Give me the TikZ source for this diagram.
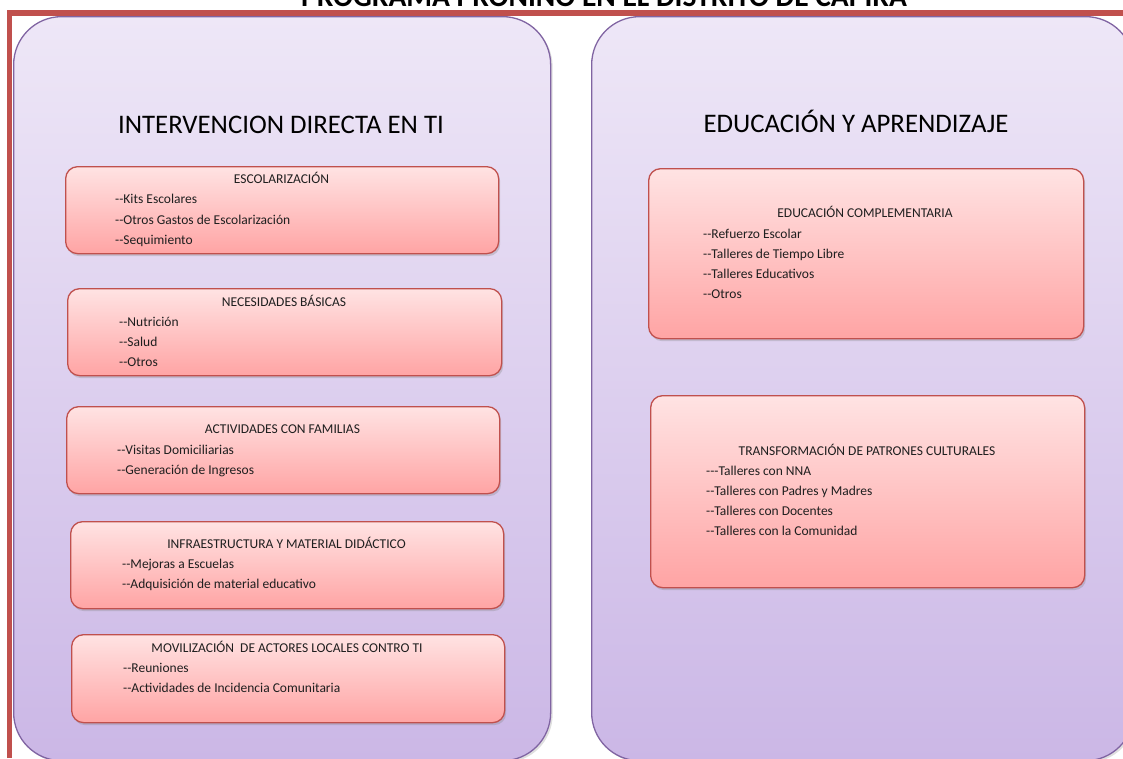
\documentclass[tikz,border=0pt]{standalone}
\usepackage{fontspec}
\setmainfont{Carlito}
\usetikzlibrary{shadows}
\definecolor{pborder}{HTML}{8064A2}
\definecolor{ptop}{HTML}{EEE7F7}
\definecolor{pbot}{HTML}{CBB7E6}
\definecolor{rborder}{HTML}{C0504D}
\definecolor{rtop}{HTML}{FFE3E3}
\definecolor{rbot}{HTML}{FFA4A4}
\definecolor{frame}{HTML}{C0504D}
\newcommand{\dsh}{-{}-}
\tikzset{
  panel/.style={draw=pborder, line width=1.3pt, rounded corners=48pt,
    top color=ptop, bottom color=pbot, anchor=north west, inner sep=0pt,
    drop shadow={opacity=0.25, shadow xshift=2pt, shadow yshift=-2pt}},
  rbox/.style={draw=rborder, line width=1.3pt, rounded corners=12pt,
    top color=rtop, bottom color=rbot, anchor=north west, inner sep=0pt,
    drop shadow={opacity=0.3, shadow xshift=1.5pt, shadow yshift=-2.5pt}},
  heading/.style={font=\fontsize{26.8}{31}\selectfont, anchor=base, inner sep=0pt},
  btitle/.style={font=\fontsize{13.5}{16}\selectfont, text=black!88, anchor=base, inner sep=0pt},
  itemtxt/.style={font=\fontsize{13.5}{16}\selectfont, text=black!88, anchor=base west, inner sep=0pt},
}
\begin{document}
\begin{tikzpicture}[x=1pt,y=-1pt]
\useasboundingbox (0,0) rectangle (1123,758);
% title (cut at the top, as in the reference)
\node[font=\bfseries\fontsize{29.5}{34}\selectfont, anchor=base, inner sep=0pt] (title) at (604,6) {PROGRAMA PRONIÑO EN EL DISTRITO DE CAPIRA};
% panels
\node[panel, minimum width=537pt, minimum height=744pt] (L) at (13,16) {};
\node[panel, minimum width=542pt, minimum height=744pt] (R) at (591,16) {};
% frame
\coordinate (fa) at (9.5,758);
\coordinate (fb) at (9.5,13);
\coordinate (fc) at (1123,13);
\draw[frame, line width=5.5pt] (fa) -- (fb) -- (fc);
% headings
\node[heading] (hL) at (281,133) {INTERVENCION DIRECTA EN TI};
\node[heading] (hR) at (856,132) {EDUCACIÓN Y APRENDIZAJE};
% left boxes
\node[rbox, minimum width=433pt, minimum height=87pt] (b1) at (65,166) {};
\node[btitle] (b1t) at (281.5,183) {ESCOLARIZACIÓN};
\node[itemtxt] (b1a) at (115,203.5) {\dsh Kits Escolares};
\node[itemtxt] (b1b) at (115,224) {\dsh Otros Gastos de Escolarización};
\node[itemtxt] (b1c) at (115,244) {\dsh Sequimiento};

\node[rbox, minimum width=434pt, minimum height=87pt] (b2) at (67,288) {};
\node[btitle] (b2t) at (284,306) {NECESIDADES BÁSICAS};
\node[itemtxt] (b2a) at (119,326) {\dsh Nutrición};
\node[itemtxt] (b2b) at (119,346) {\dsh Salud};
\node[itemtxt] (b2c) at (119,366) {\dsh Otros};

\node[rbox, minimum width=433pt, minimum height=87pt] (b3) at (66,406) {};
\node[btitle] (b3t) at (282.5,433) {ACTIVIDADES CON FAMILIAS};
\node[itemtxt] (b3a) at (117,454) {\dsh Visitas Domiciliarias};
\node[itemtxt] (b3b) at (117,474) {\dsh Generación de Ingresos};

\node[rbox, minimum width=433pt, minimum height=87pt] (b4) at (70,521) {};
\node[btitle] (b4t) at (286.5,548) {INFRAESTRUCTURA Y MATERIAL DIDÁCTICO};
\node[itemtxt] (b4a) at (122,568) {\dsh Mejoras a Escuelas};
\node[itemtxt] (b4b) at (122,588) {\dsh Adquisición de material educativo};

\node[rbox, minimum width=433pt, minimum height=88pt] (b5) at (71,634) {};
\node[btitle] (b5t) at (287,652) {MOVILIZACIÓN\ \ DE ACTORES LOCALES CONTRO TI};
\node[itemtxt] (b5a) at (123,672) {\dsh Reuniones};
\node[itemtxt] (b5b) at (123,692) {\dsh Actividades de Incidencia Comunitaria};

% right boxes
\node[rbox, minimum width=435pt, minimum height=170pt] (c1) at (648,168) {};
\node[btitle] (c1t) at (865,217) {EDUCACIÓN COMPLEMENTARIA};
\node[itemtxt] (c1a) at (703,238) {\dsh Refuerzo Escolar};
\node[itemtxt] (c1b) at (703,258) {\dsh Talleres de Tiempo Libre};
\node[itemtxt] (c1c) at (703,278) {\dsh Talleres Educativos};
\node[itemtxt] (c1d) at (703,298) {\dsh Otros};

\node[rbox, minimum width=434pt, minimum height=192pt] (c2) at (650,395) {};
\node[btitle] (c2t) at (867,455) {TRANSFORMACIÓN DE PATRONES CULTURALES};
\node[itemtxt] (c2a) at (706,475) {-{}-{}-Talleres con NNA};
\node[itemtxt] (c2b) at (706,495) {\dsh Talleres con Padres y Madres};
\node[itemtxt] (c2c) at (706,515) {\dsh Talleres con Docentes};
\node[itemtxt] (c2d) at (706,535) {\dsh Talleres con la Comunidad};
\end{tikzpicture}
\end{document}
